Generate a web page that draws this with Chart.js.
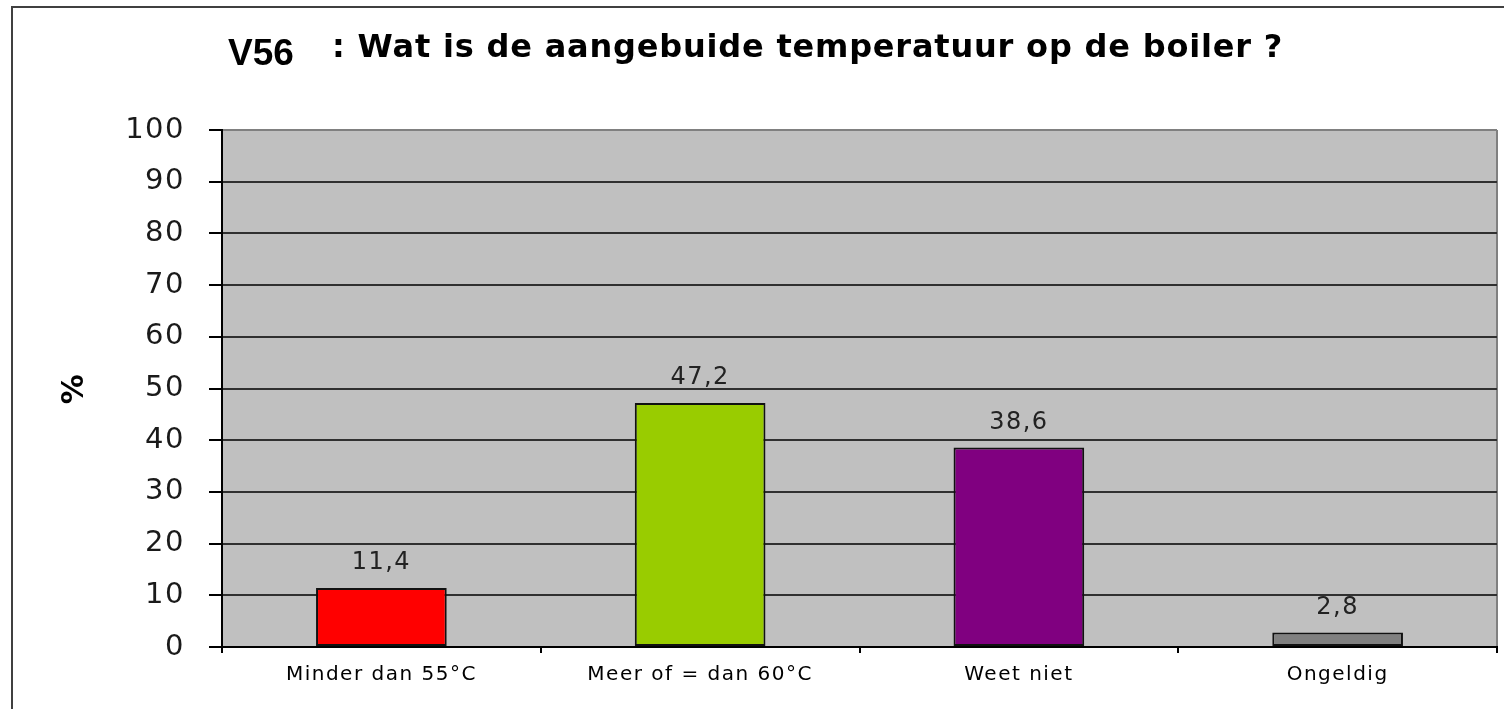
<!DOCTYPE html>
<html>
<head>
<meta charset="utf-8">
<script src="https://cdn.jsdelivr.net/npm/chart.js@4.4.0/dist/chart.umd.min.js"></script>
<style>
html, body { margin: 0; padding: 0; background: #fff; }
#wrap { width: 1504px; height: 709px; position: relative; }
</style>
</head>
<body>
<div id="wrap"><canvas id="barChart"></canvas></div>
<script>
var titleCode = 'V56';
var titleText = ': Wat is de aangebuide temperatuur op de boiler ?';
var categories = ['Minder dan 55°C', 'Meer of = dan 60°C', 'Weet niet', 'Ongeldig'];
var percentages = [11.4, 47.2, 38.6, 2.8];
var barColors = ['#ff0000', '#99cc00', '#800080', '#808080'];
var yMin = 0;
var yMax = 100;
var yStep = 10;
var yAxisTitle = '%';

var tickFont = '"DejaVu Sans", Verdana, sans-serif';

// gray plot background + outer frame
var backgroundPlugin = {
    id: 'background',
    beforeDraw: function(chart) {
        var ctx = chart.ctx;
        var a = chart.chartArea;
        ctx.save();
        ctx.fillStyle = '#ffffff';
        ctx.fillRect(0, 0, chart.width, chart.height);
        ctx.strokeStyle = '#404040';
        ctx.lineWidth = 2;
        ctx.strokeRect(12, 7, chart.width + 20, chart.height + 20);
        ctx.fillStyle = '#c0c0c0';
        ctx.fillRect(a.left, a.top, a.right - a.left, a.bottom - a.top);
        ctx.strokeStyle = '#808080';
        ctx.beginPath();
        ctx.moveTo(a.right, a.top);
        ctx.lineTo(a.right, a.bottom);
        ctx.stroke();
        ctx.restore();
        // slightly wider text for all labels
        ctx.letterSpacing = '1.5px';
    }
};

// value labels above the bars
var valueLabelPlugin = {
    id: 'valueLabels',
    afterDatasetsDraw: function(chart) {
        var ctx = chart.ctx;
        var meta = chart.getDatasetMeta(0);
        ctx.save();
        ctx.font = '24px ' + tickFont;
        ctx.fillStyle = '#222222';
        ctx.textAlign = 'center';
        ctx.textBaseline = 'middle';
        meta.data.forEach(function(bar, i) {
            var txt = percentages[i].toFixed(1).replace('.', ',');
            ctx.fillText(txt, bar.x, bar.y - 25);
        });
        ctx.restore();
    }
};

var titlePlugin = {
    id: 'titleText',
    afterDraw: function(chart) {
        var ctx = chart.ctx;
        ctx.save();
        ctx.fillStyle = '#000000';
        ctx.textAlign = 'left';
        ctx.textBaseline = 'alphabetic';
        ctx.letterSpacing = '0px';
        ctx.font = 'bold 37px "Liberation Sans", Arial, sans-serif';
        ctx.fillText(titleCode, 228, 65);
        ctx.letterSpacing = '0.8px';
        ctx.font = 'bold 32px "DejaVu Sans", sans-serif';
        ctx.fillText(titleText, 332, 57);
        ctx.restore();
    }
};

var ctxBar = document.getElementById('barChart').getContext('2d');
var barChart = new Chart(ctxBar, {
    type: 'bar',
    data: {
        labels: categories,
        datasets: [{
            data: percentages,
            backgroundColor: barColors,
            borderColor: '#111111',
            borderWidth: 2,
            borderSkipped: false,
            barPercentage: 0.41,
            categoryPercentage: 1
        }]
    },
    options: {
        responsive: true,
        maintainAspectRatio: false,
        animation: false,
        layout: {
            padding: { top: 130, right: 7, left: 0, bottom: 0 }
        },
        plugins: {
            legend: { display: false },
            tooltip: { enabled: false },
            title: { display: false }
        },
        scales: {
            x: {
                ticks: {
                    color: '#000000',
                    padding: 10,
                    font: { family: tickFont, size: 20 }
                },
                grid: {
                    display: true,
                    drawOnChartArea: false,
                    offset: true,
                    tickLength: 6,
                    color: '#000000',
                    lineWidth: 2
                },
                border: { color: '#000000', width: 2 },
                afterFit: function(scale) { scale.height = 62; }
            },
            y: {
                min: yMin,
                max: yMax,
                ticks: {
                    stepSize: yStep,
                    padding: 24,
                    color: '#1a1a1a',
                    font: { family: tickFont, size: 29 }
                },
                grid: {
                    color: function(c) { return c.tick && c.tick.value === yMax ? '#808080' : '#303030'; },
                    lineWidth: 2,
                    tickLength: 13,
                    tickColor: '#000000',
                    tickWidth: 2
                },
                border: { color: '#000000', width: 2 },
                title: {
                    display: true,
                    text: yAxisTitle,
                    color: '#000000',
                    font: { family: tickFont, size: 30, weight: 'bold' },
                    padding: { top: 57, bottom: 0 }
                },
                afterFit: function(scale) { scale.width = 222; }
            }
        }
    },
    plugins: [backgroundPlugin, valueLabelPlugin, titlePlugin]
});
</script>
</body>
</html>
